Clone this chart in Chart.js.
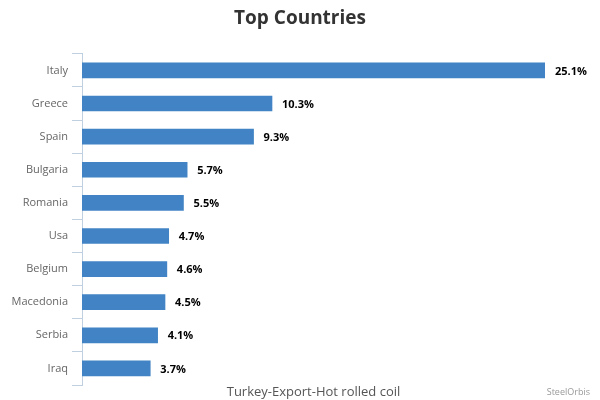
<!DOCTYPE html>
<html>
<head>
<meta charset="utf-8">
<script src="https://cdn.jsdelivr.net/npm/chart.js@4/dist/chart.umd.min.js"></script>
<style>
  html, body { margin: 0; padding: 0; background: #fff; }
  #wrap { width: 600px; height: 400px; }
</style>
</head>
<body>
<div id="wrap"><canvas id="topCountries"></canvas></div>
<script>
const countries = ['Italy', 'Greece', 'Spain', 'Bulgaria', 'Romania', 'Usa', 'Belgium', 'Macedonia', 'Serbia', 'Iraq'];
const shares = [25.1, 10.3, 9.3, 5.7, 5.5, 4.7, 4.6, 4.5, 4.1, 3.7];
const axisTitle = 'Turkey-Export-Hot rolled coil';
const creditText = 'SteelOrbis';

const FONT = "'Open Sans', 'DejaVu Sans', sans-serif";

// value labels at the end of each bar, drawn past the plot edge
const barLabels = {
  id: 'barLabels',
  afterDatasetsDraw(chart) {
    const ctx = chart.ctx;
    const meta = chart.getDatasetMeta(0);
    ctx.save();
    ctx.font = 'bold 11px ' + FONT;
    ctx.fillStyle = '#000';
    ctx.textAlign = 'left';
    ctx.textBaseline = 'middle';
    meta.data.forEach((bar, i) => {
      ctx.fillText(shares[i].toFixed(1) + '%', bar.x + 10, bar.y + 1);
    });
    ctx.restore();
  }
};

const credits = {
  id: 'credits',
  afterDraw(chart) {
    const ctx = chart.ctx;
    ctx.save();
    ctx.font = '9px ' + FONT;
    ctx.fillStyle = '#999';
    ctx.textAlign = 'right';
    ctx.textBaseline = 'middle';
    ctx.fillText(creditText, 590, 392);
    ctx.restore();
  }
};

new Chart(document.getElementById('topCountries'), {
  type: 'bar',
  data: {
    labels: countries,
    datasets: [{
      data: shares,
      backgroundColor: '#4183C4',
      barThickness: 15,
      borderWidth: 0
    }]
  },
  options: {
    indexAxis: 'y',
    responsive: true,
    maintainAspectRatio: false,
    animation: false,
    layout: { padding: 0 },
    scales: {
      x: {
        min: 0,
        max: 25.1,
        ticks: { display: false },
        grid: { display: false },
        border: { display: false },
        title: {
          display: true,
          text: axisTitle,
          color: '#555',
          font: { family: FONT, size: 13 },
          padding: { top: 0, bottom: 0 }
        },
        afterFit(scale) {
          scale.height = 15;
        }
      },
      y: {
        offset: true,
        grid: {
          offset: true,
          drawOnChartArea: false,
          drawTicks: true,
          tickLength: 10,
          color: '#C0D0E0'
        },
        border: { display: true, color: '#C0D0E0' },
        ticks: {
          color: '#666',
          padding: 4,
          font: { family: FONT, size: 11 }
        },
        afterFit(scale) {
          scale.width = 82;
        }
      },
      // empty right axis that keeps room for the value labels
      yRight: {
        position: 'right',
        display: true,
        grid: { display: false },
        ticks: { display: false },
        border: { display: false },
        afterFit(scale) {
          scale.width = 55;
        }
      }
    },
    plugins: {
      legend: { display: false },
      tooltip: { enabled: false },
      title: {
        display: true,
        text: 'Top Countries',
        color: '#333',
        font: { family: FONT, size: 19, weight: 'bold' },
        padding: { top: 7, bottom: 24 }
      }
    }
  },
  plugins: [barLabels, credits]
});
</script>
</body>
</html>
